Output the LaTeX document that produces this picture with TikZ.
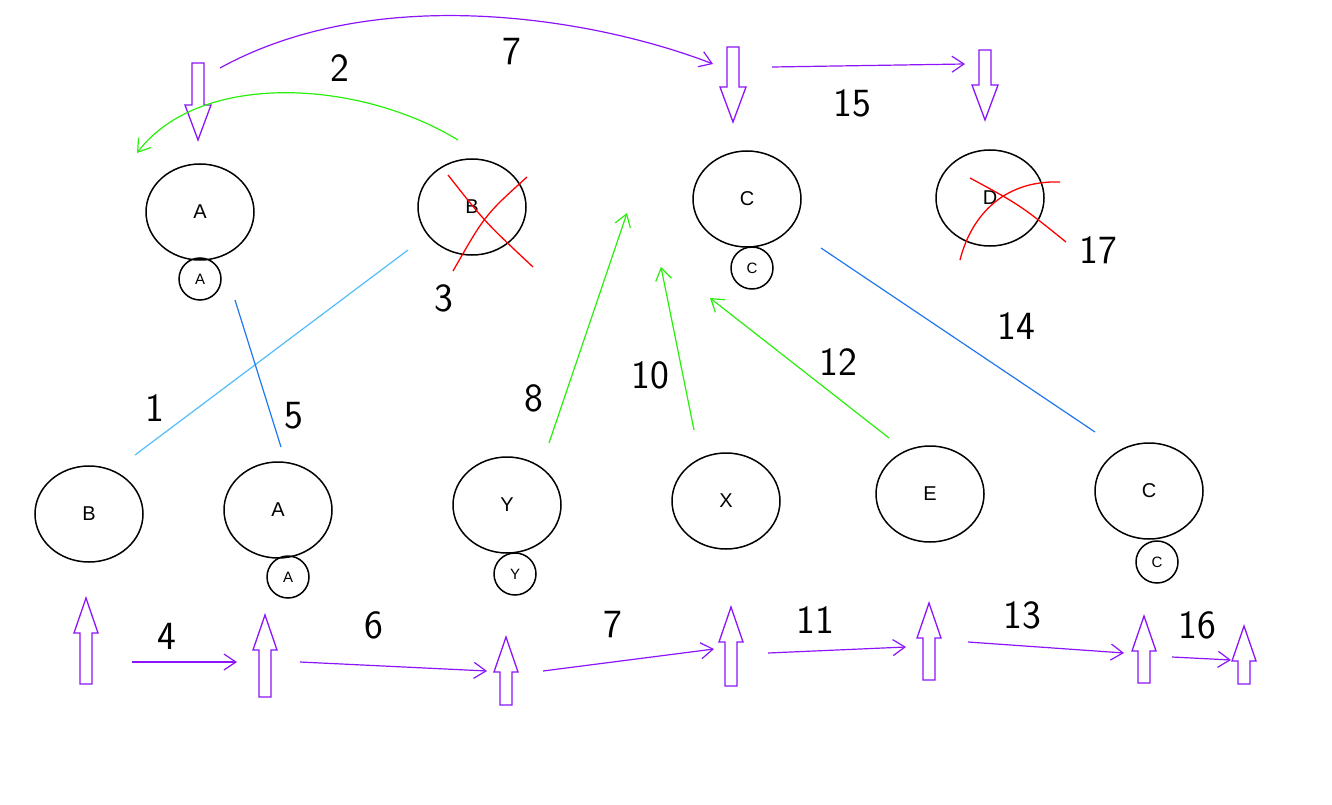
\documentclass[tikz,border=0pt]{standalone}
\usepackage{fontspec}
\setmainfont{Liberation Sans}
\usetikzlibrary{arrows.meta}
\definecolor{purp}{RGB}{140,20,250}
\definecolor{grn}{RGB}{40,240,10}
\definecolor{lblue}{RGB}{80,190,250}
\definecolor{dblue}{RGB}{30,120,240}
\tikzset{
 bigc/.style={draw,line width=1.5pt,ellipse,minimum width=108pt,minimum height=96pt,font=\fontsize{20}{20}\selectfont,inner sep=0pt},
 smc/.style={draw,line width=1.5pt,circle,minimum size=42pt,font=\fontsize{15}{15}\selectfont,inner sep=0pt},
 num/.style={font=\fontsize{40}{40}\selectfont\sffamily},
 parr/.style={purp,line width=1.2pt,-{Straight Barb[length=12pt,width=16pt]}},
 garr/.style={grn,line width=1.2pt,-{Straight Barb[length=12pt,width=16pt]}},
 hol/.style={purp,line width=1.3pt},
 rx/.style={red,line width=1.3pt}
}
\usetikzlibrary{shapes.geometric}
\newcommand\dnarr[3]{\draw[hol] ({#1-6},#2)--({#1+6},#2)--({#1+6},{#3-35})--({#1+13},{#3-35})--(#1,#3)--({#1-13},{#3-35})--({#1-6},{#3-35})--cycle;}
\newcommand\uparr[3]{\draw[hol] ({#1-6},#3)--({#1+6},#3)--({#1+6},{#2+35})--({#1+12},{#2+35})--(#1,#2)--({#1-12},{#2+35})--({#1-6},{#2+35})--cycle;}
\begin{document}
\begin{tikzpicture}[x=1pt,y=-1pt]
\useasboundingbox (0,0) rectangle (1332,805);
\fill[white] (0,0) rectangle (1332,805);
% top circles
\node[bigc] (tA) at (200,212) {A};
\node[smc] (tAs) at (200,279) {A};
\node[bigc] (tB) at (472,207) {B};
\node[bigc] (tC) at (747,199) {C};
\node[smc] (tCs) at (752,268) {C};
\node[bigc] (tD) at (990,198) {D};
% bottom circles
\node[bigc] (bB) at (89,514) {B};
\node[bigc] (bA) at (278,510) {A};
\node[smc] (bAs) at (288,577) {A};
\node[bigc] (bY) at (507,505) {Y};
\node[smc] (bYs) at (515,574) {Y};
\node[bigc] (bX) at (726,501) {X};
\node[bigc] (bE) at (930,494) {E};
\node[bigc] (bC) at (1149,491) {C};
\node[smc] (bCs) at (1157,562) {C};
% red crosses
\draw[rx] (448,175) .. controls (485,222) .. (533,267);
\draw[rx] (527,177) .. controls (485,215) .. (453,271);
\draw[rx] (970,178) .. controls (1020,205) .. (1066,242);
\draw[rx] (1060,182) .. controls (1000,180) and (970,220) .. (960,260);
% hollow arrows
\dnarr{198}{63}{140}
\dnarr{733}{47}{122}
\dnarr{985}{50}{120}
\uparr{86}{598}{684}
\uparr{265}{615}{697}
\uparr{506}{637}{705}
\uparr{731}{607}{686}
\uparr{929}{603}{680}
\uparr{1144}{616}{683}
\uparr{1244}{626}{684}
% purple arrows
\draw[parr] (132,662)--(237,662);
\draw[parr] (300,662)--(487,671);
\draw[parr] (543,671)--(714,649);
\draw[parr] (768,653)--(906,647);
\draw[parr] (968,642)--(1124,653);
\draw[parr] (1172,657)--(1231,660);
\draw[parr] (220,68) .. controls (380,-20) and (600,20) .. (713,64);
\draw[parr] (772,67)--(965,64);
% green
\draw[garr] (458,140) .. controls (360,80) and (200,70) .. (137,153);
\draw[garr] (549,443)--(627,213);
\draw[garr] (694,430)--(661,267);
\draw[garr] (889,438)--(710,298);
% blue
\draw[lblue,line width=1.2pt] (135,455)--(408,250);
\draw[dblue,line width=1.2pt] (235,300)--(281,447);
\draw[dblue,line width=1.2pt] (821,248)--(1095,432);
% numbers
\node[num] at (340,68) {2};
\node[num] at (512,52) {7};
\node[num] at (852,103) {15};
\node[num] at (1098,250) {17};
\node[num] at (444,298) {3};
\node[num] at (155,408) {1};
\node[num] at (294,416) {5};
\node[num] at (534,398) {8};
\node[num] at (650,375) {10};
\node[num] at (838,362) {12};
\node[num] at (1016,326) {14};
\node[num] at (167,636) {4};
\node[num] at (374,625) {6};
\node[num] at (613,625) {7};
\node[num] at (815,620) {11};
\node[num] at (1022,615) {13};
\node[num] at (1197,625) {16};
\end{tikzpicture}
\end{document}
